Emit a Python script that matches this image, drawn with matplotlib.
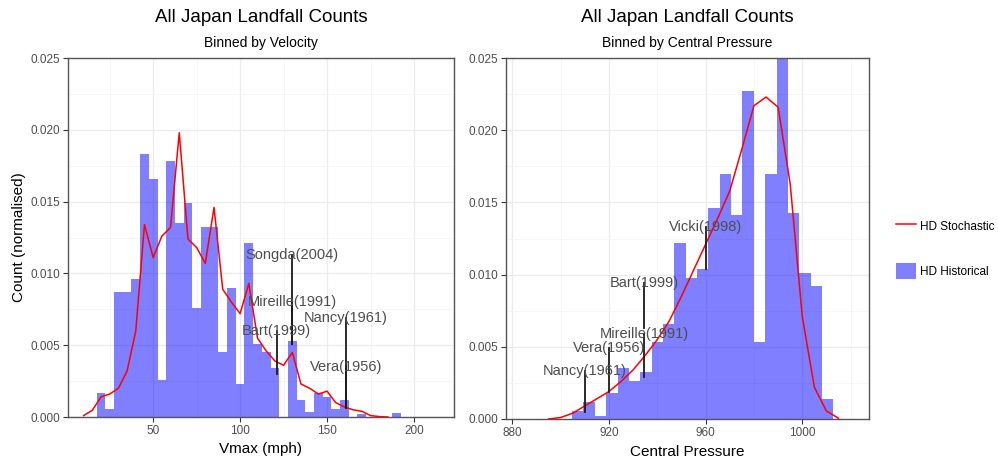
import matplotlib
matplotlib.use("Agg")
import matplotlib.pyplot as plt
from matplotlib.lines import Line2D
from matplotlib.patches import Patch
from matplotlib.ticker import MultipleLocator, FormatStrFormatter

plt.rcParams['font.family'] = ['Liberation Sans', 'DejaVu Sans']

# ---- left panel: velocity ----
vel_bins = [20, 25, 30, 35, 40, 45, 50, 55, 60, 65, 70, 75, 80, 85, 90, 95,
            100, 105, 110, 115, 120, 125, 130, 135, 140, 145, 150, 155, 160,
            165, 170, 175, 180, 185, 190]
vel_hist = [0.0017, 0.00056, 0.0087, 0.0087, 0.0096, 0.0183, 0.0166, 0.0026,
            0.0178, 0.0135, 0.0149, 0.0076, 0.0132, 0.0132, 0.0045, 0.0090,
            0.0023, 0.0121, 0.0051, 0.0045, 0.0034, 0.0, 0.0053, 0.00116,
            0.00035, 0.0017, 0.0014, 0.00058, 0.00116, 0.0, 0.00023, 0.0,
            0.0, 0.0, 0.0003]
vel_stoch_x = [10, 15, 20, 25, 30, 35, 40, 45, 50, 55, 60, 65, 70, 75, 80,
               85, 90, 95, 100, 105, 110, 115, 120, 125, 130, 135, 140, 145,
               150, 155, 160, 165, 170, 175, 180, 185]
vel_stoch_y = [0.0001, 0.00047, 0.0014, 0.0016, 0.002, 0.0032, 0.006, 0.0134,
               0.0111, 0.0126, 0.0132, 0.0198, 0.0124, 0.0118, 0.0107, 0.0146,
               0.0089, 0.0080, 0.0072, 0.0093, 0.0055, 0.0046, 0.0039, 0.0036,
               0.0045, 0.0023, 0.0020, 0.0016, 0.0018, 0.0010, 0.0007, 0.0005,
               0.0004, 0.0001, 0.00003, 0.0]
vel_storms = ["Songda(2004)", "Mireille(1991)", "Nancy(1961)", "Bart(1999)", "Vera(1956)"]
vel_storm_x = [130, 130, 161, 121, 161]
vel_label_y = [0.0113, 0.0080, 0.0069, 0.0060, 0.0035]
vel_bar_y = [0.0051, 0.0051, 0.0006, 0.0030, 0.0006]

# ---- right panel: central pressure ----
pres_bins = [907.1, 911.8, 916.5, 921.2, 925.9, 930.6, 935.3, 940.0, 944.7,
             949.4, 954.1, 958.8, 963.5, 968.2, 972.9, 977.6, 982.3, 987.0,
             991.7, 996.4, 1001.1, 1005.8, 1010.5]
pres_hist = [0.00055, 0.00115, 0.00023, 0.00177, 0.0035, 0.00262, 0.00327,
             0.00534, 0.00656, 0.0122, 0.0098, 0.0104, 0.0146, 0.0170, 0.0141,
             0.0227, 0.0053, 0.0170, 0.0252, 0.0143, 0.0101, 0.0092, 0.0014]
pres_stoch_x = [895, 900, 905, 910, 915, 920, 925, 930, 935, 940, 945, 950,
                955, 960, 965, 970, 975, 980, 985, 990, 995, 1000, 1005, 1010,
                1015]
pres_stoch_y = [0.0, 0.0001, 0.0004, 0.0009, 0.0014, 0.0019, 0.0026, 0.0034,
                0.0044, 0.0055, 0.0068, 0.0085, 0.0103, 0.0121, 0.0139, 0.0158,
                0.0187, 0.0217, 0.0223, 0.0216, 0.0163, 0.0071, 0.0022, 0.00055,
                0.00005]
pres_storms = ["Nancy(1961)", "Vera(1956)", "Mireille(1991)", "Bart(1999)", "Vicki(1998)"]
pres_storm_x = [910, 920, 934.5, 934.5, 960]
pres_label_y = [0.0033, 0.0049, 0.0059, 0.0094, 0.0133]
pres_bar_y = [0.0005, 0.0019, 0.0029, 0.0063, 0.0104]

bar_col = '#0000ff'
line_col = '#ff0000'
txt_grey = '#4d4d4d'

fig = plt.figure(figsize=(9.98, 4.58), dpi=100)
ax1 = fig.add_axes([0.0681, 0.0895, 0.3868, 0.7838])
ax2 = fig.add_axes([0.507, 0.0852, 0.3637, 0.788])


def style_axes(ax):
    ax.set_axisbelow(True)
    ax.grid(True, which='major', color='#ebebeb', lw=0.9)
    ax.grid(True, which='minor', color='#f3f3f3', lw=0.5)
    for s in ax.spines.values():
        s.set_color('#555555')
        s.set_linewidth(1.0)
    ax.tick_params(which='major', length=3.5, color='#333333', labelsize=8.5,
                   labelcolor=txt_grey, pad=2)
    ax.tick_params(which='minor', length=0)
    ax.set_ylim(0, 0.025)
    ax.yaxis.set_major_locator(MultipleLocator(0.005))
    ax.yaxis.set_minor_locator(MultipleLocator(0.0025))
    ax.yaxis.set_major_formatter(FormatStrFormatter('%.3f'))


def annotate(ax, names, xs, ys_text, ys_end):
    for name, x, yt, ye in zip(names, xs, ys_text, ys_end):
        ax.plot([x, x], [yt, ye], color='#1a1a1a', lw=1.3, zorder=4)
    for name, x, yt in zip(names, xs, ys_text):
        ax.text(x, yt, name, ha='center', va='center', fontsize=10.5,
                color=txt_grey, zorder=5)


def titles(ax, sub):
    ax.text(0.5, 1.113, "All Japan Landfall Counts", transform=ax.transAxes,
            ha='center', va='center', fontsize=13.5, color='black')
    ax.text(0.5, 1.041, sub, transform=ax.transAxes,
            ha='center', va='center', fontsize=10, color='black')


# left
style_axes(ax1)
ax1.bar(vel_bins, vel_hist, width=5, color=bar_col, alpha=0.5, lw=0,
        antialiased=False, zorder=2)
ax1.plot(vel_stoch_x, vel_stoch_y, color=line_col, lw=1.1, zorder=3)
annotate(ax1, vel_storms, vel_storm_x, vel_label_y, vel_bar_y)
ax1.set_xlim(1, 223)
ax1.xaxis.set_major_locator(MultipleLocator(50))
ax1.xaxis.set_minor_locator(MultipleLocator(25))
ax1.set_xticks([50, 100, 150, 200])
ax1.set_xlabel("Vmax (mph)", fontsize=11)
ax1.xaxis.set_label_coords(0.5, -0.09)
ax1.xaxis.label.set_va('center')
ax1.set_ylabel("Count (normalised)", fontsize=11)
ax1.yaxis.set_label_coords(-0.127, 0.5)
ax1.yaxis.label.set_va('center')
titles(ax1, "Binned by Velocity")

# right
style_axes(ax2)
ax2.bar(pres_bins, pres_hist, width=4.7, color=bar_col, alpha=0.5, lw=0,
        antialiased=False, zorder=2)
ax2.plot(pres_stoch_x, pres_stoch_y, color=line_col, lw=1.1, zorder=3)
annotate(ax2, pres_storms, pres_storm_x, pres_label_y, pres_bar_y)
ax2.set_xlim(877.4, 1027.6)
ax2.xaxis.set_major_locator(MultipleLocator(40))
ax2.xaxis.set_minor_locator(MultipleLocator(20))
ax2.set_xlabel("Central Pressure", fontsize=11)
ax2.xaxis.set_label_coords(0.5, -0.091)
ax2.xaxis.label.set_va('center')
titles(ax2, "Binned by Central Pressure")

handles = [Line2D([0], [0], color=line_col, lw=1.1),
           Patch(facecolor=bar_col, alpha=0.5, edgecolor='none')]
fig.legend(handles, ["HD Stochastic", "HD Historical"], loc='center left',
           bbox_to_anchor=(0.887, 0.457), frameon=False, fontsize=8.5,
           handlelength=1.7, handleheight=1.7, labelspacing=2.4,
           handletextpad=0.35)

fig.savefig("out.png", dpi=100)
